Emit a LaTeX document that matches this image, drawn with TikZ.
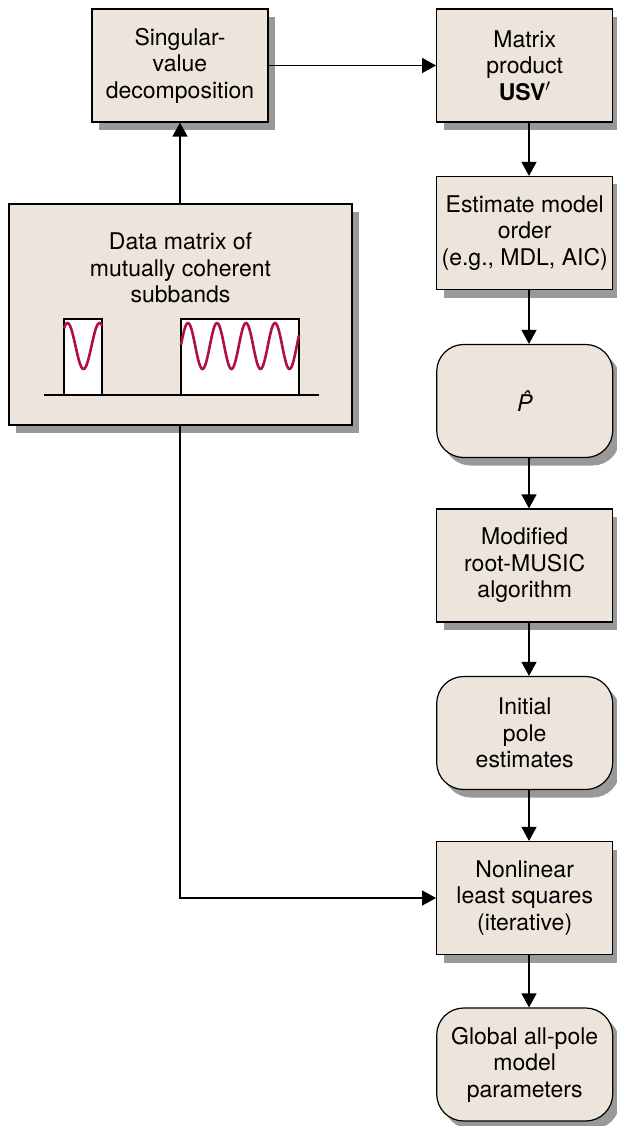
\documentclass[tikz,border=0pt]{standalone}
\usepackage{fontspec}
\setmainfont{TeX Gyre Heros}
\usetikzlibrary{arrows.meta,shadows}
\definecolor{boxfill}{HTML}{EDE4DB}
\definecolor{shade}{HTML}{999999}
\definecolor{wavecol}{HTML}{B01040}
\begin{document}
\begin{tikzpicture}[x=1pt,y=-1pt,
  every node/.style={font=\fontsize{23}{26.5}\selectfont},
  block/.style={draw=black, line width=1.2pt, fill=boxfill,
    minimum width=176pt, minimum height=113pt, inner sep=0pt, align=center,
    drop shadow={shadow xshift=7pt, shadow yshift=-8pt, fill=shade, opacity=1}},
  sqbox/.style={block},
  rbox/.style={block, rounded corners=27pt},
  link/.style={line width=1.2pt, -{Triangle[length=14pt,width=15pt]}},
  subband/.style={draw=black, line width=1.2pt, fill=white},
  wave/.style={draw=wavecol, line width=2.6pt},
]
\useasboundingbox (0,0) rectangle (616,1126);

% left column
\node[sqbox] (svd) at (180,65.5) {Singular-\\value\\decomposition};
\node[block, minimum width=343pt, minimum height=221pt] (data) at (180.5,314.5) {};
\node[align=center] (datalabel) at (180.5,268) {Data matrix of\\mutually coherent\\subbands};

% subband sketch inside the data box
\draw[subband] (64,395) rectangle (102,319);
\draw[subband] (181,395) rectangle (299,319);
\draw[line width=1.2pt] (44,395) -- (319,395);
\draw[wave] plot[domain=64:102, samples=60] (\x, {346-23*cos(11.25*(\x-67.5))});
\draw[wave] plot[domain=181:299, samples=160] (\x, {346-23*cos(12.4138*(\x-188))});

% right column
\node[sqbox] (usv) at (524.7,65.5) {Matrix\\product\\\textbf{USV}$'$};
\node[sqbox] (est) at (524.7,233) {Estimate model\\order\\(e.g., MDL, AIC)};
\node[rbox] (phat) at (524.7,401) {\itshape\accent"02C6 P};
\node[sqbox] (music) at (524.7,565.5) {Modified\\root-MUSIC\\algorithm};
\node[rbox] (init) at (524.7,733) {Initial\\pole\\estimates};
\node[sqbox] (nls) at (524.7,898) {Nonlinear\\least squares\\(iterative)};
\node[rbox] (glob) at (524.7,1064.5) {Global all-pole\\model\\parameters};

% connectors
\draw[link] (svd.south |- data.north) -- (svd.south);
\draw[link] (svd.east) -- (usv.west);
\draw[link] ([xshift=4.3pt]usv.south) -- ([xshift=4.3pt]est.north);
\draw[link] ([xshift=4.3pt]est.south) -- ([xshift=4.3pt]phat.north);
\draw[link] ([xshift=4.3pt]phat.south) -- ([xshift=4.3pt]music.north);
\draw[link] ([xshift=4.3pt]music.south) -- ([xshift=4.3pt]init.north);
\draw[link] ([xshift=4.3pt]init.south) -- ([xshift=4.3pt]nls.north);
\draw[link] ([xshift=4.3pt]nls.south) -- ([xshift=4.3pt]glob.north);
\draw[link] (svd.south |- data.south) |- (nls.west);
\end{tikzpicture}
\end{document}
